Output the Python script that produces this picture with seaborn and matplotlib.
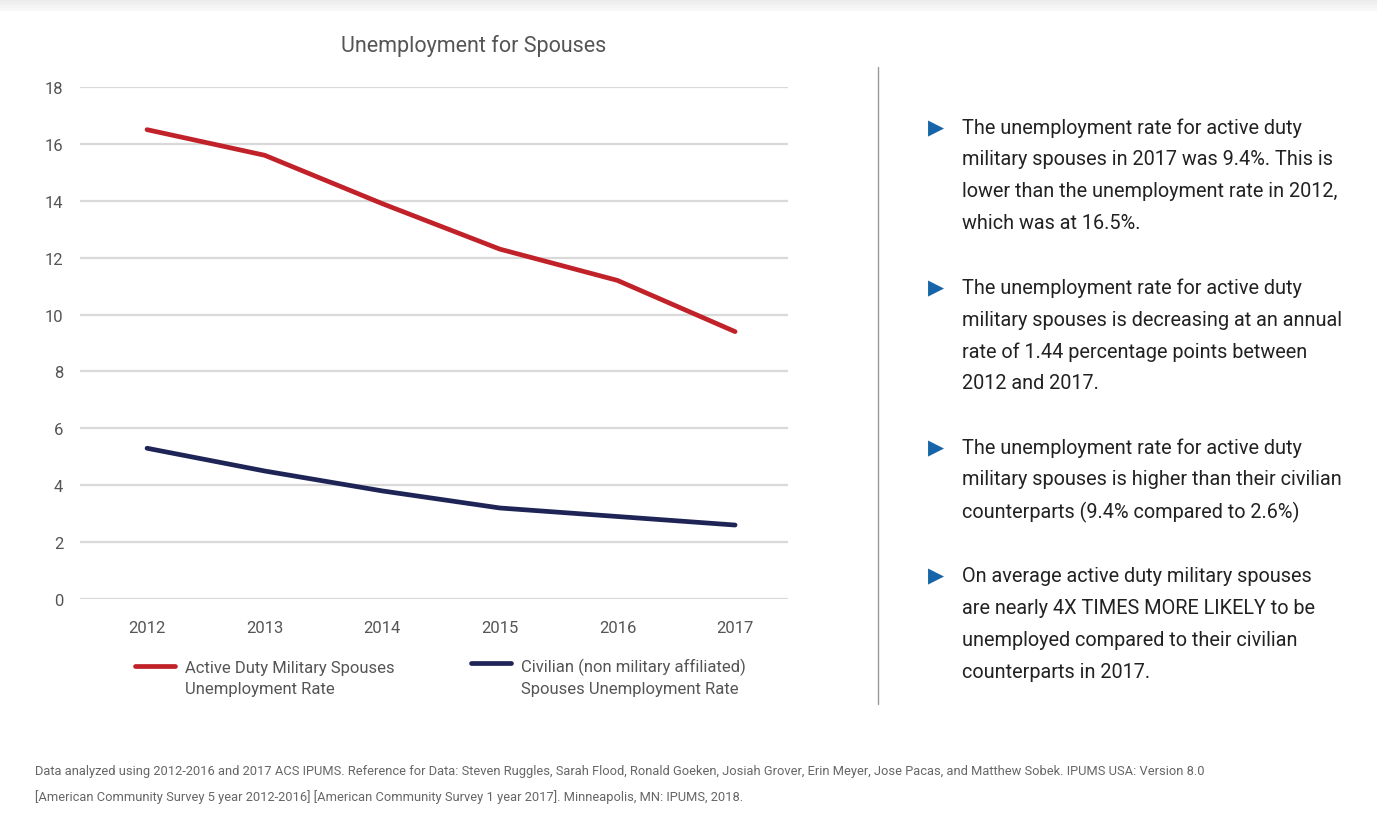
import matplotlib
matplotlib.use("Agg")
import matplotlib.pyplot as plt
import seaborn as sns
import pandas as pd
from matplotlib.lines import Line2D
from matplotlib.patches import Rectangle

years = ["2012", "2013", "2014", "2015", "2016", "2017"]
active_duty = [16.5, 15.6, 13.9, 12.3, 11.2, 9.4]
civilian = [5.3, 4.5, 3.8, 3.2, 2.9, 2.6]
series_names = ["Active Duty Military Spouses\nUnemployment Rate",
                "Civilian (non military affiliated)\nSpouses Unemployment Rate"]
y_ticks = [0, 2, 4, 6, 8, 10, 12, 14, 16, 18]
title = "Unemployment for Spouses"
bullets = [
    ["The unemployment rate for active duty",
     "military spouses in 2017 was 9.4%. This is",
     "lower than the unemployment rate in 2012,",
     "which was at 16.5%."],
    ["The unemployment rate for active duty",
     "military spouses is decreasing at an annual",
     "rate of 1.44 percentage points between",
     "2012 and 2017."],
    ["The unemployment rate for active duty",
     "military spouses is higher than their civilian",
     "counterparts (9.4% compared to 2.6%)"],
    ["On average active duty military spouses",
     "are nearly 4X TIMES MORE LIKELY to be",
     "unemployed compared to their civilian",
     "counterparts in 2017."],
]
footnote = ["Data analyzed using 2012-2016 and 2017 ACS IPUMS. Reference for Data: Steven Ruggles, Sarah Flood, Ronald Goeken, Josiah Grover, Erin Meyer, Jose Pacas, and Matthew Sobek. IPUMS USA: Version 8.0",
            "[American Community Survey 5 year 2012-2016] [American Community Survey 1 year 2017]. Minneapolis, MN: IPUMS, 2018."]

df = pd.DataFrame({
    "year": years * 2,
    "rate": active_duty + civilian,
    "series": [series_names[0]] * len(years) + [series_names[1]] * len(years),
})

sns.set_theme(style="white")
fam = ["Roboto", "DejaVu Sans"]
plt.rcParams["font.family"] = fam

W, H = 1377, 837
fig = plt.figure(figsize=(W / 100, H / 100), dpi=100)
fig.patch.set_facecolor("white")

def fx(px):
    return px / W

def fy(py):
    return 1 - py / H

# top shadow band
for k, c in enumerate(["#ececec", "#f0f0f0", "#f4f4f4", "#f8f8f8"]):
    fig.patches.append(Rectangle((0, fy(3 * (k + 1))), 1, 3 / H, transform=fig.transFigure,
                                 facecolor=c, edgecolor="none", zorder=0))

ax = fig.add_axes([fx(80), fy(600), fx(788) - fx(80), fy(88) - fy(600)])
palette = {series_names[0]: "#c1222a", series_names[1]: "#1e2556"}
sns.lineplot(data=df, x="year", y="rate", hue="series", palette=palette,
             linewidth=3.4, ax=ax, sort=False, legend=True)
for ln in ax.lines:
    ln.set_solid_capstyle("round")
    ln.set_solid_joinstyle("round")
    ln.set_clip_on(False)
    ln.set_zorder(3)

ax.set_xlim(-0.57, 5.45)
ax.set_ylim(0, 18)
ax.set_yticks(y_ticks)
ax.yaxis.grid(True, color="#d9d9d9", linewidth=1.6)
ax.xaxis.grid(False)
ax.set_axisbelow(True)
for s in ax.spines.values():
    s.set_visible(False)
ax.tick_params(axis="both", length=0, labelsize=12, labelcolor="#555555")
ax.tick_params(axis="y", pad=12)
ax.tick_params(axis="x", pad=15)
ax.set_xlabel("")
ax.set_ylabel("")

fig.text(fx(474), fy(46), title, ha="center", va="center", fontsize=15.5, color="#555555")

# legend
handles, labels = ax.get_legend_handles_labels()
ax.get_legend().remove()
leg = fig.legend(handles, labels, loc="upper left", ncol=2,
                 bbox_to_anchor=(fx(128), fy(652)), frameon=False,
                 fontsize=12, handlelength=2.4, handletextpad=0.6,
                 columnspacing=4.6, labelcolor="#555555", borderaxespad=0)
for t in leg.get_texts():
    t.set_linespacing(1.5)
for h in leg.legend_handles:
    h.set_linewidth(3.4)
    h.set_solid_capstyle("round")
try:
    for col in leg._legend_handle_box.get_children():
        for item in col.get_children():
            item.align = "top"
except Exception:
    pass

# divider
fig.add_artist(Line2D([fx(878), fx(878)], [fy(68), fy(705)], transform=fig.transFigure,
                      color="#999999", linewidth=1.0))

# bullets
starts = [128, 288, 448, 576]
for start, lines in zip(starts, bullets):
    fig.text(fx(936), fy(start), "\u25B6", ha="center", va="center", fontsize=15,
             color="#1565a8", family="DejaVu Sans")
    for i, line in enumerate(lines):
        fig.text(fx(962), fy(start + 32 * i), line, ha="left", va="center",
                 fontsize=14.3, color="#222222")

for i, line in enumerate(footnote):
    fig.text(fx(35), fy(772 + 25 * i), line, ha="left", va="center",
             fontsize=9.3, color="#666666")

fig.savefig("out.png", dpi=100, facecolor="white")
